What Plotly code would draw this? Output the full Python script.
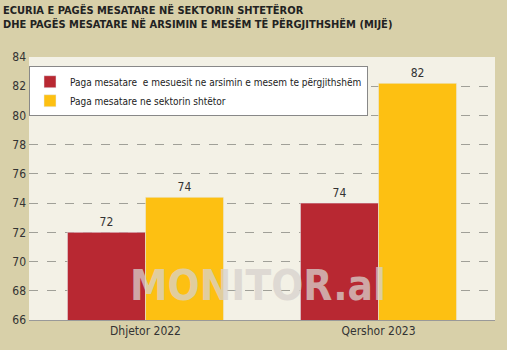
import plotly.graph_objects as go

categories = ["Dhjetor 2022", "Qershor 2023"]
teachers = [72.0, 74.0]
public_sector = [74.4, 82.2]
teachers_text = ["72", "74"]
public_text = ["74", "82"]
series_names = ["Paga mesatare  e mesuesit ne arsimin e mesem te përgjithshëm",
                "Paga mesatare ne sektorin shtëtor"]
y_ticks = list(range(66, 85, 2))

FONT = "DejaVu Sans Condensed, Liberation Sans Narrow, Roboto, Arial"
RED = "#B82832"
YEL = "#FDC012"

fig = go.Figure()
fig.add_bar(x=categories, y=teachers, name=series_names[0], marker_color=RED,
            text=teachers_text, textposition="outside", cliponaxis=False,
            textfont=dict(family=FONT, size=12, color="#333"))
fig.add_bar(x=categories, y=public_sector, name=series_names[1], marker_color=YEL,
            text=public_text, textposition="outside", cliponaxis=False,
            textfont=dict(family=FONT, size=12, color="#333"))

fig.update_layout(
    width=507, height=350,
    margin=dict(l=21, r=12, t=57, b=27),
    paper_bgcolor="#D8D0A9",
    plot_bgcolor="#F3F1E6",
    barmode="group", bargap=0.33, bargroupgap=0,
    font=dict(family=FONT, size=12, color="#333"),
    showlegend=True,
    legend=dict(x=0.0, y=0.965, xanchor="left", yanchor="top",
                bgcolor="white", bordercolor="#888", borderwidth=1,
                font=dict(family=FONT, size=10, color="#222"),
                traceorder="normal", itemwidth=30, tracegroupgap=0),
    xaxis=dict(showgrid=False, showline=True, linecolor="#999", linewidth=1,
               ticks="", tickfont=dict(family=FONT, size=12, color="#333")),
    yaxis=dict(range=[66, 84], tickvals=y_ticks, showgrid=True, gridcolor="#A0A098",
               griddash="dash", gridwidth=1, zeroline=False, ticks="",
               ticklabelstandoff=2,
               tickfont=dict(family=FONT, size=12, color="#333")),
)

fig.add_annotation(xref="paper", yref="paper", x=0, y=1, xanchor="left", yanchor="bottom",
                   yshift=24, showarrow=False, align="left",
                   text="<b>ECURIA E PAGËS MESATARE NË SEKTORIN SHTETËROR<br>DHE PAGËS MESATARE NË ARSIMIN E MESËM TË PËRGJITHSHËM (MIJË)</b>",
                   font=dict(family=FONT, size=11, color="#222"), xshift=-28)

fig.add_annotation(xref="paper", yref="paper", x=0.5, y=0.13, xanchor="center", yanchor="middle",
                   showarrow=False, text="<b>MONITOR.al</b>",
                   font=dict(family="DejaVu Sans Condensed, DejaVu Sans", size=42, color="rgba(215,210,205,0.75)"),
                   xshift=-4)

fig.write_html("out.html")
